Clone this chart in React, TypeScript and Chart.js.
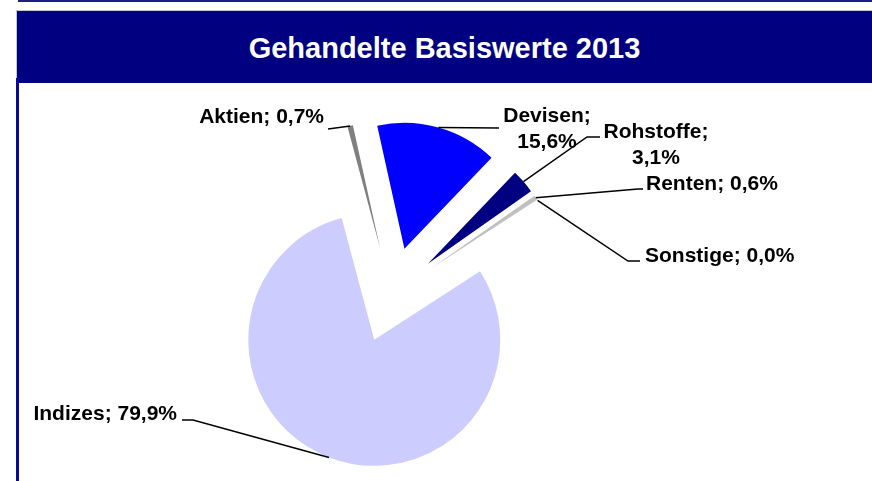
import React, { useEffect, useRef } from "react";
import { Chart, registerables } from "chart.js";

Chart.register(...registerables);

// ---- data ----
const TITLE = "Gehandelte Basiswerte 2013";
const categories = ["Aktien", "Devisen", "Rohstoffe", "Renten", "Sonstige", "Indizes"];
const shares = [0.7, 15.6, 3.1, 0.6, 0.0, 79.9];
const sliceColors = ["#808080", "#0000FF", "#000080", "#C0C0C0", "#FFFFFF", "#CCCCFF"];

// ---- layout / style ----
const W = 872;
const H = 481;
const EXPLODE = 48; // px each slice is pulled out of the pie centre
const PIE_RADIUS = 126;
const FONT = '"Liberation Sans", Arial, Helvetica, sans-serif';
const LABEL_FONT = `bold 21px ${FONT}`;
const LINE_H = 26;

type LabelLayout = {
  path: number[][];
  split: boolean;
  align: CanvasTextAlign;
  x: number;
  y: number;
};

const labelLayout: LabelLayout[] = [
  { path: [[328, 129]], split: false, align: "right", x: 324, y: 123 },
  { path: [[499, 128]], split: true, align: "center", x: 547, y: 122 },
  { path: [[587, 137], [600, 137]], split: true, align: "center", x: 656, y: 138 },
  { path: [[638, 189], [643, 189]], split: false, align: "left", x: 646, y: 190 },
  { path: [[628, 261], [640, 261]], split: false, align: "left", x: 645, y: 262 },
  { path: [[193, 420], [182, 420]], split: false, align: "right", x: 177, y: 420 },
];

const fmt = (v: number) => v.toFixed(1).replace(".", ",") + "%";

// pulls every slice out along its mid-angle (Excel-style exploded pie)
const explodePlugin = {
  id: "explodeSlices",
  afterDatasetUpdate(chart: any, args: any) {
    const meta = chart.getDatasetMeta(args.index);
    meta.data.forEach((arc: any) => {
      const half = (arc.startAngle + arc.endAngle) / 2;
      arc.x = arc.x + Math.cos(half) * EXPLODE;
      arc.y = arc.y + Math.sin(half) * EXPLODE;
    });
  },
};

const leaderPlugin = {
  id: "leaderLabels",
  afterDatasetsDraw(chart: any) {
    const ctx: CanvasRenderingContext2D = chart.ctx;
    const meta = chart.getDatasetMeta(0);
    ctx.save();
    meta.data.forEach((arc: any, i: number) => {
      const half = (arc.startAngle + arc.endAngle) / 2;
      const sx = arc.x + Math.cos(half) * arc.outerRadius;
      const sy = arc.y + Math.sin(half) * arc.outerRadius;
      const lay = labelLayout[i];
      ctx.beginPath();
      ctx.moveTo(sx, sy);
      lay.path.forEach(([px, py]) => ctx.lineTo(px, py));
      ctx.strokeStyle = "#000000";
      ctx.lineWidth = 1.5;
      ctx.stroke();

      ctx.font = LABEL_FONT;
      ctx.fillStyle = "#000000";
      ctx.textAlign = lay.align;
      ctx.textBaseline = "alphabetic";
      if (lay.split) {
        ctx.fillText(categories[i] + ";", lay.x, lay.y);
        ctx.fillText(fmt(shares[i]), lay.x, lay.y + LINE_H);
      } else {
        ctx.fillText(`${categories[i]}; ${fmt(shares[i])}`, lay.x, lay.y);
      }
    });
    ctx.restore();
  },
};

export default function App() {
  const canvasRef = useRef<HTMLCanvasElement | null>(null);

  useEffect(() => {
    if (!canvasRef.current) return;
    const chart = new Chart(canvasRef.current, {
      type: "pie",
      data: {
        labels: categories,
        datasets: [
          {
            data: shares,
            backgroundColor: sliceColors,
            borderWidth: 0,
            radius: PIE_RADIUS,
            offset: 0,
          } as any,
        ],
      },
      options: {
        responsive: false,
        animation: false,
        rotation: -15,
        events: [],
        layout: { padding: { left: 0, right: 89, top: 109, bottom: 0 } },
        plugins: {
          legend: { display: false },
          title: { display: false },
          tooltip: { enabled: false },
        },
      } as any,
      plugins: [explodePlugin, leaderPlugin],
    });
    return () => chart.destroy();
  }, []);

  return (
    <div
      style={{
        position: "absolute",
        left: 0,
        top: 0,
        width: W,
        height: H,
        overflow: "hidden",
        background: "#ffffff",
      }}
    >
      <div style={{ position: "absolute", left: 18, top: 0, width: W - 18, height: 2, background: "#1c1c8c" }} />
      <div
        style={{
          position: "absolute",
          left: 16,
          top: 10,
          width: W - 16,
          height: 73,
          boxSizing: "border-box",
          background: "#000080",
          borderTop: "1px solid #c4c4d4",
          borderLeft: "1px solid #c4c4d4",
          display: "flex",
          alignItems: "center",
          justifyContent: "center",
          color: "#ffffff",
          fontFamily: FONT,
          fontWeight: "bold",
          fontSize: 29,
          lineHeight: "1",
          paddingTop: 2,
        }}
      >
        {TITLE}
      </div>
      <div style={{ position: "absolute", left: 16, top: 78, width: 3, height: H - 78, background: "#0a0a9a" }} />
      <canvas
        ref={canvasRef}
        width={W}
        height={H}
        style={{ position: "absolute", left: 0, top: 0, width: W, height: H }}
      />
    </div>
  );
}
